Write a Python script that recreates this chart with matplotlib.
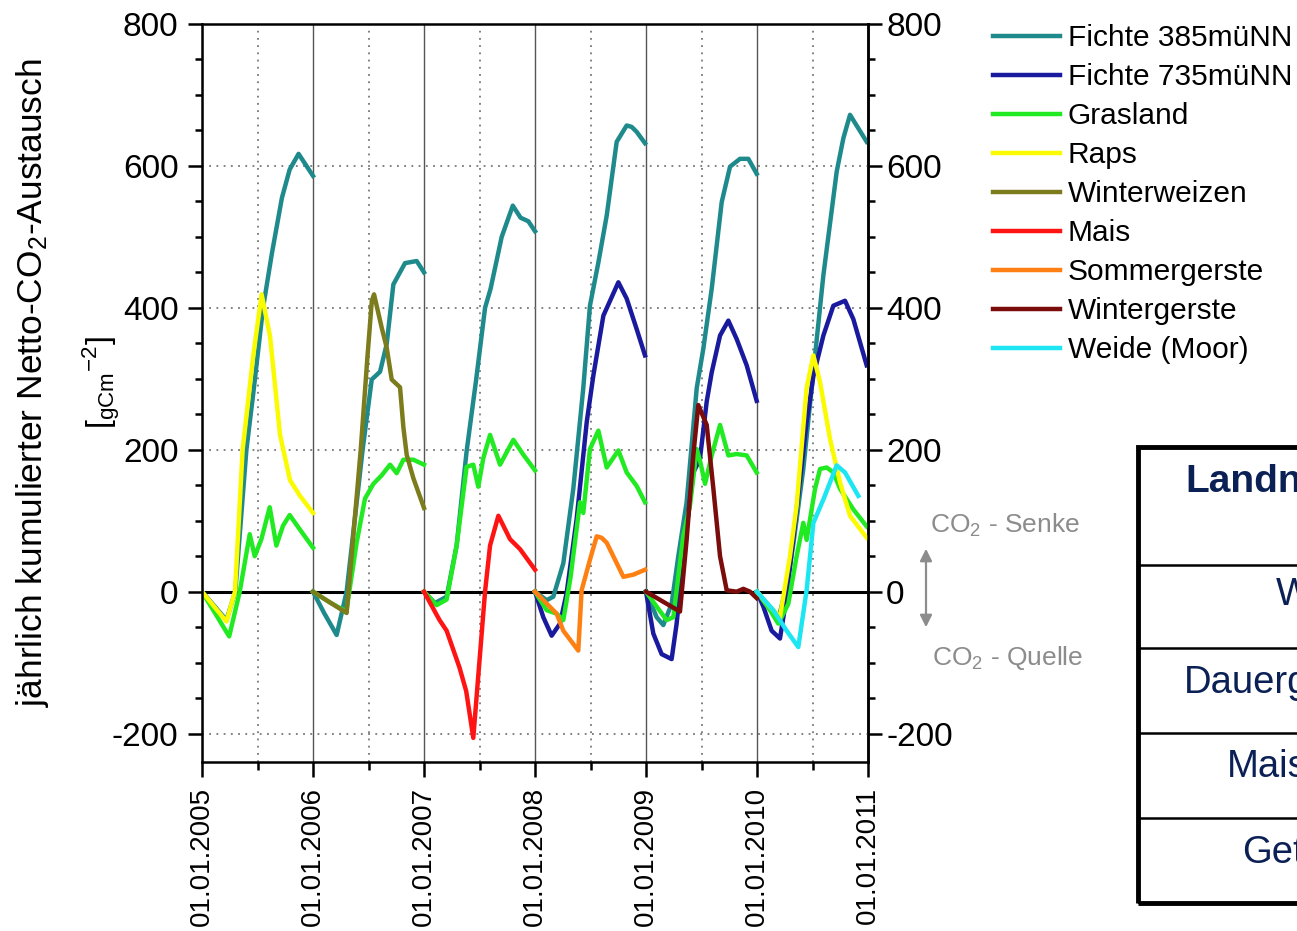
import numpy as np
import matplotlib
matplotlib.use('Agg')
import matplotlib.pyplot as plt
from matplotlib.ticker import MultipleLocator, FixedLocator
from matplotlib.patches import Rectangle, FancyArrowPatch
from matplotlib.lines import Line2D

plt.rcParams['font.family'] = ['Liberation Sans', 'DejaVu Sans']
plt.rcParams['mathtext.fontset'] = 'custom'
plt.rcParams['mathtext.rm'] = 'Liberation Sans'
plt.rcParams['mathtext.it'] = 'Liberation Sans:italic'
plt.rcParams['mathtext.bf'] = 'Liberation Sans:bold'
plt.rcParams['axes.unicode_minus'] = False

nan = np.nan

# cumulated net CO2 exchange per year (decimal year, gC m-2); nan splits the years
fichte385_t = [2005.0, 2005.1, 2005.22, 2005.30, 2005.40, 2005.46, 2005.55, 2005.63, 2005.72, 2005.79, 2005.87, 2006.0, nan,
               2006.0, 2006.1, 2006.213, 2006.303, 2006.447, 2006.529, 2006.604, 2006.664, 2006.724, 2006.829, 2006.934, 2007.0, nan,
               2007.0, 2007.099, 2007.204, 2007.294, 2007.384, 2007.47, 2007.55, 2007.60, 2007.70, 2007.80, 2007.87, 2007.94, 2008.0, nan,
               2008.0, 2008.105, 2008.165, 2008.255, 2008.345, 2008.435, 2008.495, 2008.571, 2008.646, 2008.736, 2008.826, 2008.871, 2008.916, 2008.991, nan,
               2009.0, 2009.096, 2009.156, 2009.231, 2009.291, 2009.366, 2009.457, 2009.516, 2009.592, 2009.682, 2009.757, 2009.847, 2009.922, 2009.997, nan,
               2010.0, 2010.1, 2010.19, 2010.27, 2010.33, 2010.417, 2010.492, 2010.598, 2010.718, 2010.778, 2010.838, 2010.913, 2010.988]
fichte385_v = [0, -18, -40, 0, 200, 277, 400, 477, 555, 595, 617, 586, nan,
               0, -30, -61, 0, 200, 299, 310, 349, 433, 463, 466, 450, nan,
               0, -16, -7, 65, 198, 299, 400, 427, 500, 544, 527, 522, 508, nan,
               0, -12, -7, 40, 145, 287, 403, 464, 530, 634, 657, 655, 648, 632, nan,
               0, -36, -47, -17, 50, 126, 287, 342, 427, 549, 599, 610, 610, 589, nan,
               0, -20, -40, 10, 70, 173, 286, 446, 592, 639, 672, 653, 634]

fichte735_t = [2008.0, 2008.075, 2008.150, 2008.225, 2008.285, 2008.375, 2008.466, 2008.525, 2008.616, 2008.751, 2008.826, 2008.916, 2008.991, nan,
               2009.0, 2009.066, 2009.141, 2009.231, 2009.276, 2009.336, 2009.426, 2009.486, 2009.547, 2009.592, 2009.667, 2009.742, 2009.817, 2009.907, 2009.997, nan,
               2010.0, 2010.057, 2010.132, 2010.207, 2010.267, 2010.357, 2010.447, 2010.508, 2010.598, 2010.688, 2010.793, 2010.868, 2010.988]
fichte735_v = [0, -36, -62, -45, -2, 102, 239, 304, 389, 436, 413, 370, 333, nan,
               0, -59, -88, -95, -45, 50, 168, 187, 268, 309, 361, 382, 356, 319, 269, nan,
               0, -21, -55, -66, -7, 116, 239, 304, 361, 403, 410, 384, 319]

grasland_t = [2005.0, 2005.245, 2005.34, 2005.43, 2005.475, 2005.535, 2005.61, 2005.67, 2005.73, 2005.79, 2005.88, 2006.0, nan,
              2006.0, 2006.15, 2006.30, 2006.393, 2006.468, 2006.544, 2006.619, 2006.694, 2006.754, 2006.814, 2006.904, 2007.0, nan,
              2007.0, 2007.114, 2007.204, 2007.294, 2007.384, 2007.444, 2007.489, 2007.534, 2007.595, 2007.685, 2007.805, 2007.895, 2008.0, nan,
              2008.0, 2008.105, 2008.195, 2008.255, 2008.32, 2008.405, 2008.435, 2008.495, 2008.571, 2008.646, 2008.751, 2008.826, 2008.916, 2008.991, nan,
              2009.0, 2009.096, 2009.186, 2009.246, 2009.336, 2009.396, 2009.457, 2009.486, 2009.532, 2009.592, 2009.667, 2009.742, 2009.817, 2009.907, 2009.997, nan,
              2010.0, 2010.117, 2010.192, 2010.282, 2010.357, 2010.417, 2010.447, 2010.523, 2010.568, 2010.628, 2010.688, 2010.748, 2010.868, 2010.988]
grasland_v = [0, -63, 0, 81, 50, 74, 119, 65, 93, 108, 88, 62, nan,
              0, -15, -28, 69, 131, 152, 164, 179, 167, 186, 186, 179, nan,
              0, -19, -11, 65, 176, 179, 148, 188, 221, 179, 214, 193, 171, nan,
              0, -26, -31, -40, 20, 126, 111, 201, 227, 175, 199, 168, 149, 126, nan,
              0, -21, -40, -36, 78, 121, 201, 185, 152, 192, 235, 192, 194, 192, 168, nan,
              0, -26, -45, -17, 50, 97, 73, 145, 173, 175, 168, 145, 116, 92]

raps_t = [2005.0, 2005.22, 2005.297, 2005.366, 2005.462, 2005.537, 2005.613, 2005.703, 2005.793, 2005.883, 2006.0, nan,
          2010.0, 2010.117, 2010.207, 2010.297, 2010.357, 2010.447, 2010.508, 2010.568, 2010.658, 2010.748, 2010.838, 2010.988]
raps_v = [0, -42, 0, 200, 333, 419, 360, 221, 157, 135, 111, nan,
          0, -21, -36, 50, 121, 287, 333, 295, 215, 154, 107, 76]

winterweizen_t = [2006.0, 2006.303, 2006.43, 2006.49, 2006.53, 2006.55, 2006.619, 2006.664, 2006.709, 2006.784,
                  2006.814, 2006.844, 2006.904, 2007.0]
winterweizen_v = [0, -30, 200, 330, 410, 419, 372, 344, 299, 288, 232, 193, 160, 118]

mais_t = [2007.0, 2007.14, 2007.204, 2007.32, 2007.38, 2007.444, 2007.550, 2007.595, 2007.670, 2007.775, 2007.865, 2008.0]
mais_v = [0, -40, -55, -107, -140, -206, 0, 65, 107, 74, 60, 31]

sommergerste_t = [2008.0, 2008.195, 2008.255, 2008.390, 2008.42, 2008.495, 2008.556, 2008.60, 2008.646, 2008.796, 2008.886, 2008.991]
sommergerste_v = [0, -31, -55, -83, 2, 45, 78, 76, 69, 21, 24, 31]

wintergerste_t = [2009.0, 2009.306, 2009.366, 2009.426, 2009.471, 2009.547, 2009.607, 2009.667, 2009.727, 2009.817,
                  2009.877, 2009.937, 2009.997]
wintergerste_v = [0, -28, 73, 192, 263, 235, 145, 50, 2, 0, 4, 0, -9]

weide_t = [2010.0, 2010.147, 2010.267, 2010.372, 2010.447, 2010.508, 2010.598, 2010.718, 2010.793, 2010.913]
weide_v = [0, -26, -55, -78, 2, 97, 130, 178, 168, 135]

series = [
    ('Fichte 385müNN', fichte385_t, fichte385_v, '#1f8a8c'),
    ('Fichte 735müNN', fichte735_t, fichte735_v, '#1a1a9e'),
    ('Grasland', grasland_t, grasland_v, '#22ea22'),
    ('Raps', raps_t, raps_v, '#fbfb00'),
    ('Winterweizen', winterweizen_t, winterweizen_v, '#7c7c1c'),
    ('Mais', mais_t, mais_v, '#ff1414'),
    ('Sommergerste', sommergerste_t, sommergerste_v, '#ff8012'),
    ('Wintergerste', wintergerste_t, wintergerste_v, '#7a0c0c'),
    ('Weide (Moor)', weide_t, weide_v, '#1ce6f2'),
]

years = [2005, 2006, 2007, 2008, 2009, 2010, 2011]
year_labels = ['01.01.%d' % y for y in years]
table_rows = ['Landnutzung', 'Wald', 'Dauergrünland', 'Mais', 'Getreide']

W, H = 1297, 931
def fx(px):
    return px / W
def fy(py):
    return 1 - py / H

fig = plt.figure(figsize=(W / 100, H / 100), dpi=100)
ax = fig.add_axes([fx(202), fy(762), (868 - 202) / W, (762 - 24) / H])

ax.axhline(0, color='black', lw=2.2, zorder=1.5)
for name, t, v, c in series:
    ax.plot(t, v, color=c, lw=3.2, label=name, solid_joinstyle='round', zorder=2)

ax.set_xlim(2005, 2011)
ax.set_ylim(-240, 800)
ax.xaxis.set_major_locator(FixedLocator(years))
ax.xaxis.set_minor_locator(FixedLocator([y + 0.5 for y in years[:-1]]))
ax.set_xticklabels(year_labels, rotation=90)
ax.yaxis.set_major_locator(MultipleLocator(200))
ax.yaxis.set_minor_locator(MultipleLocator(50))

ax.grid(which='major', axis='x', color='#555555', lw=1.0, ls='-')
ax.grid(which='minor', axis='x', color='#777777', lw=1.3, ls=(0, (1, 3)))
ax.grid(which='major', axis='y', color='#777777', lw=1.3, ls=(0, (1, 3)))
ax.set_axisbelow(True)

for s in ax.spines.values():
    s.set_linewidth(1.8)
ax.tick_params(which='both', direction='out', width=1.8)
ax.tick_params(axis='y', which='major', length=10, labelsize=24, pad=7)
ax.tick_params(axis='y', which='minor', length=5)
ax.tick_params(axis='x', which='major', length=11, labelsize=20, pad=7)
ax.tick_params(axis='x', which='minor', length=6)

# right axis repeats the left scale
sec = ax.secondary_yaxis('right')
sec.yaxis.set_major_locator(MultipleLocator(200))
sec.yaxis.set_minor_locator(MultipleLocator(50))
sec.spines['right'].set_linewidth(1.8)
sec.tick_params(which='both', direction='out', width=1.8)
sec.tick_params(which='major', length=10, labelsize=24, pad=3)
sec.tick_params(which='minor', length=5)

fig.text(fx(33), fy(383), 'jährlich kumulierter Netto-CO$_2$-Austausch', rotation=90,
         ha='center', va='center', fontsize=25.5)
fig.text(fx(101), fy(383), r'$[_{\mathrm{gCm}}{}^{\mathrm{-2}}]$', rotation=90,
         ha='center', va='center', fontsize=23)

fig.legend(loc='upper left', bbox_to_anchor=(fx(993), fy(24)), frameon=False, fontsize=21.5,
           handlelength=2.25, handletextpad=0.25, labelspacing=0.37, borderpad=0, borderaxespad=0)

grey = '#8c8c8c'
fig.text(fx(930), fy(525), 'CO$_2$ - Senke', color=grey, fontsize=19, ha='left', va='center')
fig.text(fx(932), fy(658), 'CO$_2$ - Quelle', color=grey, fontsize=19, ha='left', va='center')
fig.add_artist(FancyArrowPatch((fx(926), fy(630)), (fx(926), fy(546)), transform=fig.transFigure,
                               arrowstyle='<|-|>', mutation_scale=18, color=grey, lw=1.6))

# table on the right, partly outside the picture
fig.add_artist(Rectangle((fx(1138), fy(903)), fx(1330) - fx(1138), fy(447) - fy(903),
                         transform=fig.transFigure, fill=False, lw=3.5, ec='black'))
for py in [565, 648, 733, 818]:
    fig.add_artist(Line2D([fx(1138), 1.02], [fy(py), fy(py)], transform=fig.transFigure, color='black', lw=1.8))
navy = '#0b2155'
pos = [(1185, 482), (1276, 595), (1184, 683), (1227, 767), (1242, 853)]
for i, (txt, (px, py)) in enumerate(zip(table_rows, pos)):
    fig.text(fx(px), fy(py), txt, color=navy, fontsize=28 if i == 0 else 27.5, ha='left', va='center',
             fontweight='bold' if i == 0 else 'normal')

fig.savefig('out.png', dpi=100)
